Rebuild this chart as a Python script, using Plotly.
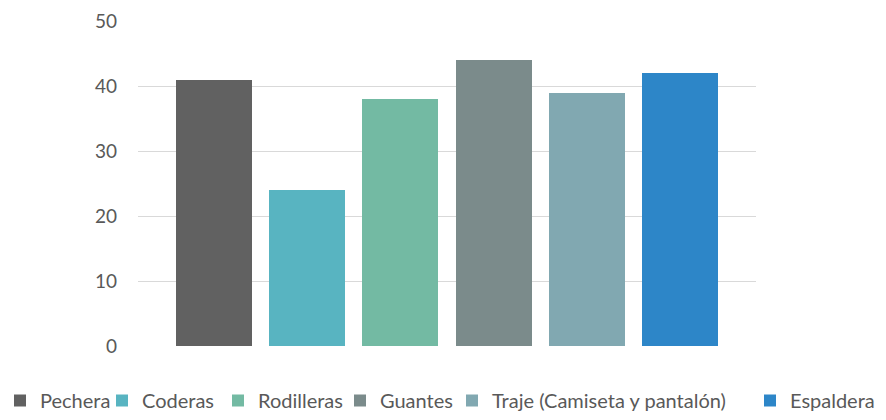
import plotly.graph_objects as go

categories = ["Pechera", "Coderas", "Rodilleras", "Guantes", "Traje (Camiseta y pantalón)", "Espaldera"]
values = [41, 24, 38, 44, 39, 42]
colors = ["#616161", "#58b4c1", "#73baa3", "#7b8b8b", "#81a8b1", "#2d86c8"]
y_ticks = [0, 10, 20, 30, 40, 50]

# horizontal pixel centre of each legend swatch (layout only)
legend_swatch_px = [20, 128, 244, 366, 478, 776]

W, H = 886, 420
fig = go.Figure()
legend_layout = {}
for i, (name, v, c) in enumerate(zip(categories, values, colors)):
    key = "legend" if i == 0 else f"legend{i+1}"
    fig.add_trace(go.Bar(
        x=[name], y=[v], name=name,
        marker=dict(color=c, line=dict(width=0)),
        width=0.814, legend=key, showlegend=True,
    ))
    legend_layout[key] = dict(
        orientation="h", xref="container", yref="container",
        x=max(legend_swatch_px[i] - 26, 0) / W, xanchor="left",
        y=0, yanchor="bottom",
        font=dict(family="Lato, sans-serif", size=20, color="#595959"),
        itemwidth=30, bgcolor="rgba(0,0,0,0)", borderwidth=0,
    )

fig.update_layout(
    width=W, height=H,
    showlegend=True,
    barmode="overlay",
    plot_bgcolor="white", paper_bgcolor="white",
    font=dict(family="Lato, sans-serif", size=19, color="#595959"),
    margin=dict(l=138, r=130, t=21, b=74, autoexpand=False),
    xaxis=dict(
        categoryorder="array", categoryarray=categories,
        range=[-0.814, 5.814], showticklabels=False, showgrid=False,
        zeroline=False, showline=False,
    ),
    yaxis=dict(
        range=[0, 50], tickvals=y_ticks, showgrid=True, gridcolor="#d9d9d9",
        gridwidth=1, zeroline=False, showline=False, ticks="",
        ticklabelstandoff=20,
    ),
    bargap=0,
    **legend_layout,
)

fig.write_html("out.html", config={"displayModeBar": False},
               post_script="document.body.style.margin='0';")
